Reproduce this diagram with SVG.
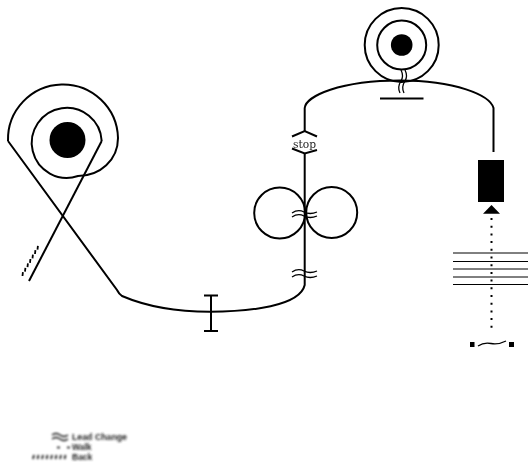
<svg xmlns="http://www.w3.org/2000/svg" width="528" height="462" viewBox="0 0 528 462">
<defs>
<style>
.l{fill:none;stroke:#000;stroke-width:2}
.t{fill:none;stroke:#000;stroke-width:1.3}
.g{fill:none;stroke:#000;stroke-width:1}
.d{fill:#000}
.s{font-family:"DejaVu Serif",serif;font-size:10.700px;fill:#222}
.k{font-family:"Liberation Sans",sans-serif;font-size:8.500px;font-weight:bold;fill:#222}
</style>
<filter id="b" x="-10%" y="-30%" width="120%" height="160%"><feGaussianBlur stdDeviation="0.85"/></filter>
</defs>
<g id="connectors">
<path class="l" d="M29 281L101.700 141"/>
<path class="l" d="M8 141L117 290Q119 294 122 296C150 308 180 311.700 210 311.700C250 311.700 300 306 304.700 285V153"/>
<path class="l" d="M304.700 131V108C306 96 340 80.500 400 80.500C455 80.500 490 95 493.500 108V152"/>
<path d="M491.500 218V331" fill="none" stroke="#000" stroke-width="2" stroke-dasharray="2 5.700"/>
</g>
<g id="spiral-left">
<path class="l" d="M8 141A55 55 0 1 1 118 138C118 160 100 176 78 176A35 35 0 1 1 101.700 141"/>
<circle class="d" cx="67.500" cy="140" r="18"/>
</g>
<g id="back-hatch">
<path fill="none" stroke="#000" stroke-width="1.800" d="M22.500 276l.4 -3.800M25 271.600l.4 -3.800M27.500 267.200l.4 -3.800M30 262.800l.4 -3.800M32.500 258.400l.4 -3.800M35 254l.4 -3.800M37.500 249.600l.4 -3.800"/>
</g>
<g id="spiral-top">
<circle class="l" cx="401.700" cy="45" r="37"/>
<circle class="l" cx="401.700" cy="45" r="24.500"/>
<circle class="d" cx="401.700" cy="45" r="10.800"/>
<path class="t" d="M401 70Q404 76 401 81Q397 87 400 93M405 70Q408 76 405 81Q401 87 404 93"/>
<path class="l" d="M380 98.500H423.500"/>
</g>
<g id="stop" opacity="0.99">
<path class="l" d="M292 136.500L304.700 131L317 136.500M292 148.500L304.700 153.500L317 150"/>
<text class="s" x="304.500" y="147.500" text-anchor="middle">stop</text>
</g>
<g id="loops">
<circle class="l" cx="279.700" cy="213" r="25.500"/>
<circle class="l" cx="331.700" cy="212.500" r="25.500"/>
<path class="t" d="M292 213Q298 209 304 212T317 212M292 217Q298 213 304 216T317 216"/>
</g>
<g id="lead-change">
<path class="t" d="M292 272Q298 268 304 271T317 271M292 277Q298 273 304 276T317 276"/>
</g>
<g id="ibeam">
<path class="l" d="M204 295.500H218M211 295.500V331M204 331H218"/>
</g>
<g id="block">
<rect class="d" x="478" y="160" width="26" height="42"/>
<polygon class="d" points="491.500,205 483,213.700 500,213.700"/>
</g>
<g id="staff">
<path class="g" d="M453 253H528M453 261.500H528M453 269H528M453 277H528M453 284.500H528"/>
</g>
<g id="end">
<rect class="d" x="470" y="342" width="4.500" height="5"/>
<rect class="d" x="509" y="342" width="5" height="5"/>
<path class="t" d="M478 346Q484 342 491 343.500T506 341"/>
</g>
<g id="legend" filter="url(#b)">
<path class="t" d="M52 435Q56 432 60 435T68 435M52 439Q56 436 60 439T68 439"/>
<text class="k" x="72" y="440" textLength="55" lengthAdjust="spacingAndGlyphs">Lead Change</text>
<path d="M57 447.500H60M67 447.500H70" fill="none" stroke="#000" stroke-width="1.500"/>
<text class="k" x="72" y="450">Walk</text>
<path d="M33 459l1 -4M37.500 459l1 -4M42 459l1 -4M46.500 459l1 -4M51 459l1 -4M55.500 459l1 -4M60 459l1 -4M64.500 459l1 -4" fill="none" stroke="#000" stroke-width="1.600"/>
<text class="k" x="72" y="460">Back</text>
</g>
</svg>
